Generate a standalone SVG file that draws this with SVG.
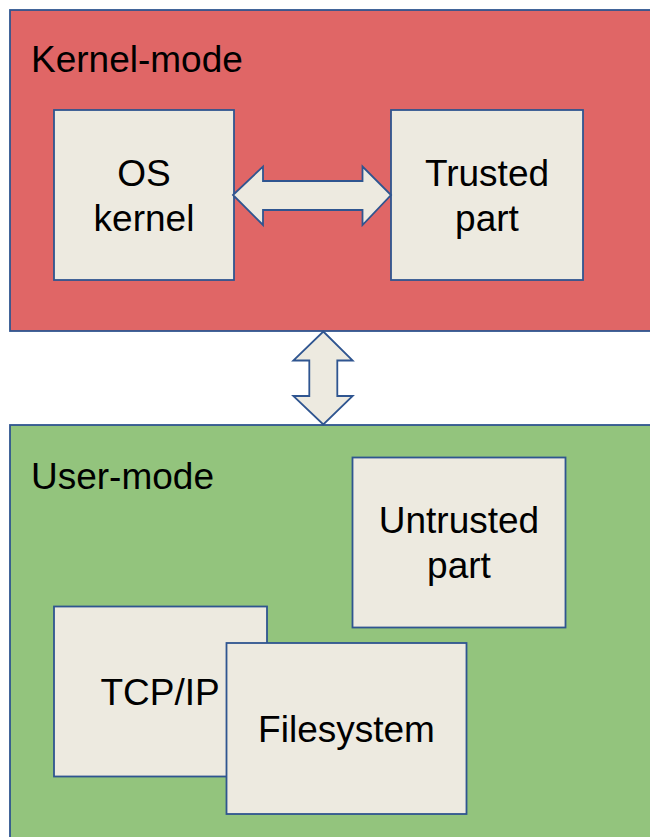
<svg xmlns="http://www.w3.org/2000/svg" width="650" height="837" viewBox="0 0 650 837">
<style>
.region{stroke:#2F5590;stroke-width:1.8}
.box{fill:#EDEAE0;stroke:#2F5590;stroke-width:1.8}
.arrow{fill:#EDEAE0;stroke:#2F5590;stroke-width:1.8;stroke-linejoin:miter}
text{font-family:"Liberation Sans",Arial,sans-serif;font-size:37px;fill:#000}
.c{text-anchor:middle}
</style>
<rect width="650" height="837" fill="#FFFFFF"/>
<g id="kernel-mode">
<rect class="region" x="10" y="10" width="660" height="321" fill="#E06666"/>
<text x="31" y="72">Kernel-mode</text>
</g>
<g id="user-mode">
<rect class="region" x="10" y="425" width="660" height="430" fill="#93C47D"/>
<text x="31" y="489">User-mode</text>
</g>
<g id="os-kernel">
<rect class="box" x="54" y="110" width="180" height="170"/>
<text class="c" x="144" y="186">OS</text>
<text class="c" x="144" y="231">kernel</text>
</g>
<g id="trusted-part">
<rect class="box" x="391" y="110" width="192" height="170"/>
<text class="c" x="487" y="186">Trusted</text>
<text class="c" x="487" y="231">part</text>
</g>
<g id="untrusted-part">
<rect class="box" x="352.5" y="457.5" width="213" height="170"/>
<text class="c" x="459" y="533">Untrusted</text>
<text class="c" x="459" y="578">part</text>
</g>
<g id="tcp-ip">
<rect class="box" x="54" y="606.5" width="213" height="170"/>
<text class="c" x="160" y="705">TCP/IP</text>
</g>
<g id="filesystem">
<rect class="box" x="226.5" y="643" width="240" height="171"/>
<text class="c" x="346.5" y="742">Filesystem</text>
</g>
<g id="connectors">
<path class="arrow" d="M233,195 L263,166.5 L263,181 L362.5,181 L362.5,166.5 L391,195 L362.5,225 L362.5,210 L263,210 L263,225 Z"/>
<path class="arrow" d="M323.3,331.5 L352.7,360.5 L337.3,360.5 L337.3,396 L352.7,396 L323.3,424.5 L293.3,396 L309.3,396 L309.3,360.5 L293.3,360.5 Z"/>
</g>
</svg>
